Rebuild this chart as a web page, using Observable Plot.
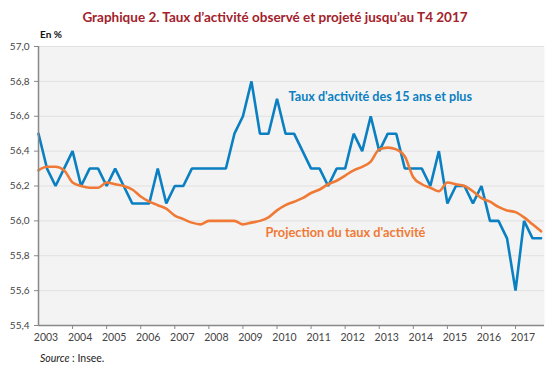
<!DOCTYPE html>
<html>
<head>
<meta charset="utf-8">
<script src="https://cdn.jsdelivr.net/npm/d3@7"></script>
<script src="https://cdn.jsdelivr.net/npm/@observablehq/plot@0.6"></script>
<style>
  body { margin: 0; background: #fff; font-family: Lato, "Open Sans", sans-serif; }
  #wrap { position: relative; width: 550px; height: 369px; }
  #title { height: 28px; box-sizing: border-box; padding-top: 8px; line-height: 18px; text-align: center;
           color: #a3222b; font-weight: 700; font-size: 13.5px; }
  #unit { position: absolute; left: 40px; top: 28px; font-size: 10px; font-weight: 700; color: #111; }
  #source { position: absolute; left: 40px; top: 352px; font-size: 10.5px; color: #222; }
</style>
</head>
<body>
<div id="wrap">
  <div id="title">Graphique 2. Taux d’activité observé et projeté jusqu’au T4 2017</div>
  <div id="chart"></div>
  <div id="unit">En %</div>
  <div id="source"><i>Source</i> : Insee.</div>
</div>
<script>
// Quarterly data, T1 2003 to T4 2017
const startYear = 2003;
const observed = [
  56.5, 56.3, 56.2, 56.3,   // 2003
  56.4, 56.2, 56.3, 56.3,   // 2004
  56.2, 56.3, 56.2, 56.1,   // 2005
  56.1, 56.1, 56.3, 56.1,   // 2006
  56.2, 56.2, 56.3, 56.3,   // 2007
  56.3, 56.3, 56.3, 56.5,   // 2008
  56.6, 56.8, 56.5, 56.5,   // 2009
  56.7, 56.5, 56.5, 56.4,   // 2010
  56.3, 56.3, 56.2, 56.3,   // 2011
  56.3, 56.5, 56.4, 56.6,   // 2012
  56.4, 56.5, 56.5, 56.3,   // 2013
  56.3, 56.3, 56.2, 56.4,   // 2014
  56.1, 56.2, 56.2, 56.1,   // 2015
  56.2, 56.0, 56.0, 55.9,   // 2016
  55.6, 56.0, 55.9, 55.9    // 2017
];
const projection = [
  56.29, 56.31, 56.31, 56.29,
  56.22, 56.20, 56.19, 56.19,
  56.22, 56.21, 56.20, 56.18,
  56.14, 56.11, 56.09, 56.07,
  56.03, 56.01, 55.99, 55.98,
  56.00, 56.00, 56.00, 56.00,
  55.98, 55.99, 56.00, 56.02,
  56.06, 56.09, 56.11, 56.13,
  56.16, 56.18, 56.21, 56.23,
  56.26, 56.29, 56.31, 56.34,
  56.41, 56.42, 56.41, 56.37,
  56.25, 56.21, 56.19, 56.17,
  56.22, 56.21, 56.20, 56.17,
  56.13, 56.11, 56.08, 56.06,
  56.05, 56.02, 55.98, 55.94
];
const yearLabels = d3.range(2003, 2018);
const yTicks = [55.4, 55.6, 55.8, 56.0, 56.2, 56.4, 56.6, 56.8, 57.0];
const seriesLabels = ["Taux d'activité des 15 ans et plus", "Projection du taux d'activité"];

const blue = "#0a7fc1";
const orange = "#f07a35";

const data = observed.map((v, i) => ({t: startYear + i / 4, obs: v, proj: projection[i]}));

const fmt = d => d.toFixed(1).replace(".", ",");

const chart = Plot.plot({
  width: 550,
  height: 320,
  marginLeft: 38,
  marginRight: 6,
  marginTop: 18,
  marginBottom: 23,
  style: {fontFamily: "Lato, 'Open Sans', sans-serif", fontSize: "10.5px", color: "#333", background: "transparent"},
  x: {domain: [2003, 2017.85], axis: null, label: null},
  y: {domain: [55.4, 57.0], axis: null, label: null},
  marks: [
    Plot.frame({fill: "#f3f3f3", stroke: null}),
    Plot.gridY(yTicks, {stroke: "#e1e1e1", strokeOpacity: 1, strokeWidth: 1}),
    Plot.lineY(data, {x: "t", y: "obs", stroke: blue, strokeWidth: 2.6, strokeLinejoin: "miter"}),
    Plot.lineY(data, {x: "t", y: "proj", stroke: orange, strokeWidth: 2.6, curve: "monotone-x"}),
    Plot.text([seriesLabels[0]], {x: 2010.34, y: 56.713, text: d => d, fill: blue, textAnchor: "start", fontSize: 12.6, fontWeight: 700}),
    Plot.text([seriesLabels[1]], {x: 2009.66, y: 55.933, text: d => d, fill: orange, textAnchor: "start", fontSize: 12.8, fontWeight: 700}),
    Plot.axisY(yTicks, {label: null, tickSize: 4, tickPadding: 5, tickFormat: fmt, stroke: "#888", fill: "#444", fontSize: 10}),
    Plot.axisX(d3.range(2004, 2018), {label: null, tickSize: 4, tickFormat: () => "", stroke: "#888"}),
    Plot.axisX(yearLabels.map(y => y + 0.22), {label: null, tickSize: 0, tickPadding: 8, tickFormat: d => String(Math.floor(d)), fill: "#444", fontSize: 10.5}),
    Plot.ruleX([2003], {stroke: "#888", strokeWidth: 1.5}),
    Plot.ruleY([55.4], {stroke: "#888", strokeWidth: 1.5})
  ]
});
document.getElementById("chart").appendChild(chart);
</script>
</body>
</html>
